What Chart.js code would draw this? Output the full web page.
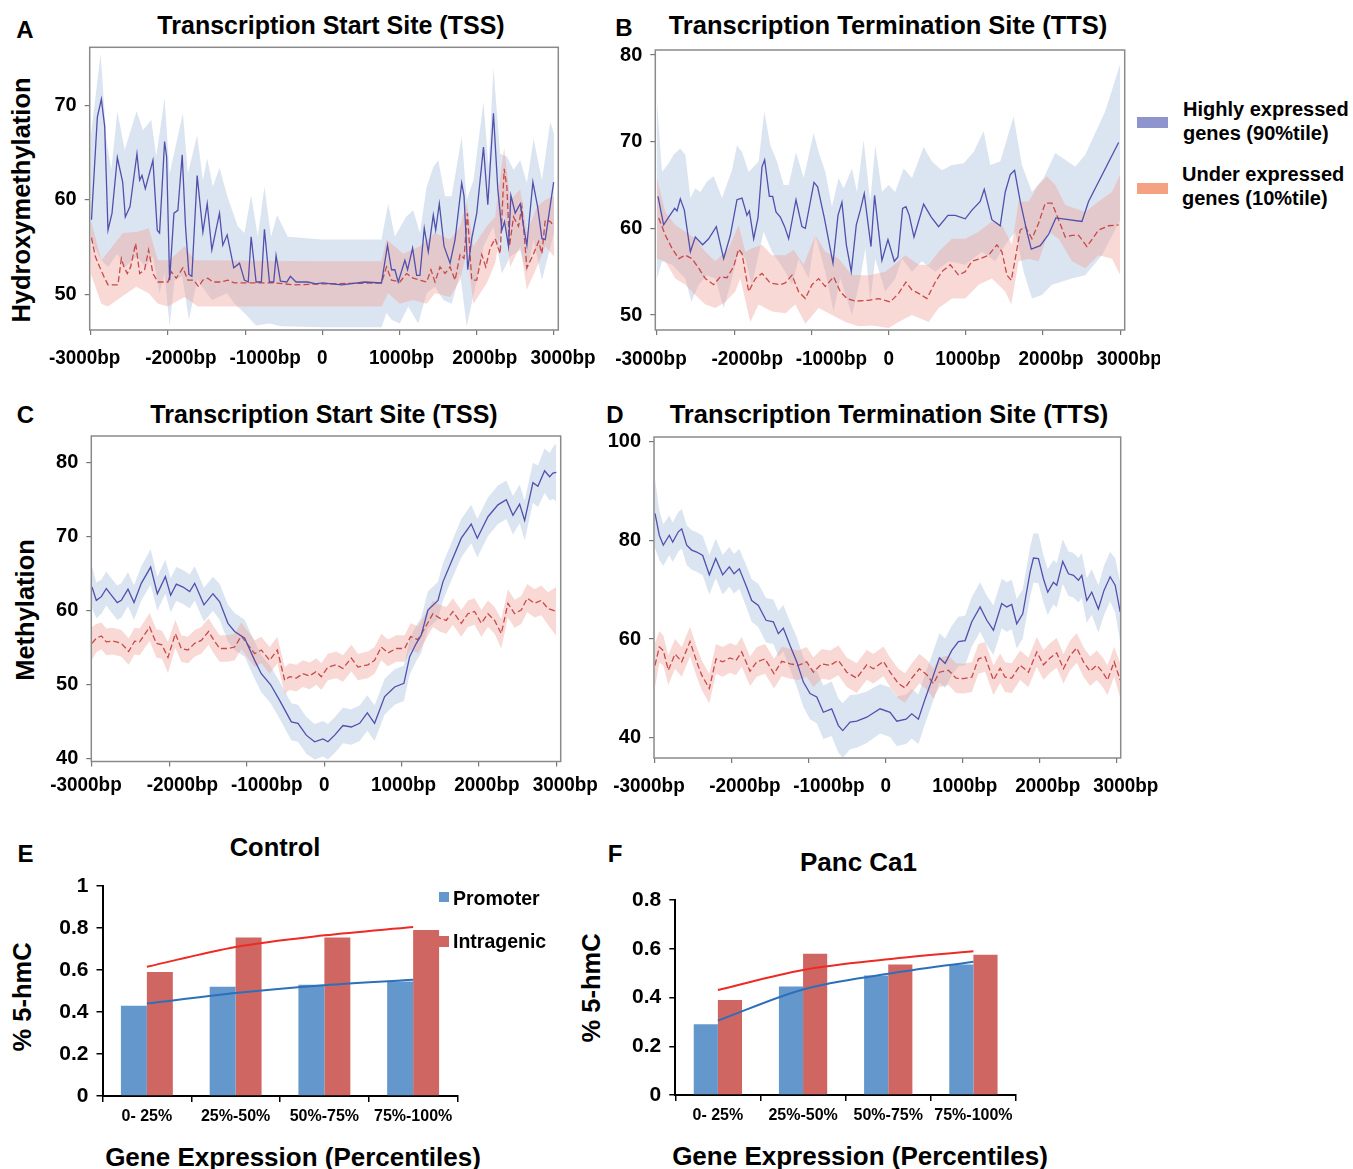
<!DOCTYPE html>
<html>
<head>
<meta charset="utf-8">
<script src="https://cdn.jsdelivr.net/npm/chart.js@4.4.1/dist/chart.umd.min.js"></script>
<style>
  body { margin: 0; background: #fff; width: 1353px; height: 1169px; position: relative; overflow: hidden;
         font-family: "Liberation Sans", Arial, sans-serif; font-weight: bold; color: #000; }
  canvas { position: absolute; }
  .t { position: absolute; transform: translate(-50%, -50%); white-space: nowrap; line-height: 1; }
  .v { position: absolute; transform: translate(-50%, -50%) rotate(-90deg); white-space: nowrap; line-height: 1; }
  .l { position: absolute; transform: translateY(-50%); white-space: nowrap; line-height: 1; }
  .lg { position: absolute; font-size: 20px; line-height: 24px; white-space: nowrap; }
  .sw { position: absolute; }
</style>
</head>
<body>

<div class="t" style="left:25px;top:29.5px;font-size:24px">A</div>
<div class="t" style="left:331px;top:24.5px;font-size:25px">Transcription Start Site (TSS)</div>
<div class="t" style="left:624px;top:27.5px;font-size:24px">B</div>
<div class="t" style="left:888px;top:26px;font-size:25.5px">Transcription Termination Site (TTS)</div>
<div class="t" style="left:25.5px;top:415px;font-size:24px">C</div>
<div class="t" style="left:324px;top:413.5px;font-size:25px">Transcription Start Site (TSS)</div>
<div class="t" style="left:615px;top:415px;font-size:24px">D</div>
<div class="t" style="left:889px;top:415px;font-size:25.5px">Transcription Termination Site (TTS)</div>
<div class="v" style="left:22px;top:200px;font-size:25.5px">Hydroxymethylation</div>
<div class="v" style="left:26px;top:610px;font-size:25.5px">Methylation</div>

<div class="sw" style="left:1137px;top:117px;width:31px;height:10.5px;background:#8E95CD"></div>
<div class="lg" style="left:1183px;top:96.5px">Highly expressed<br>genes (90%tile)</div>
<div class="sw" style="left:1137px;top:183px;width:31px;height:11px;background:#F5A283"></div>
<div class="lg" style="left:1182px;top:161.5px">Under expressed<br>genes (10%tile)</div>

<div class="t" style="left:25.5px;top:853.5px;font-size:24px">E</div>
<div class="t" style="left:275px;top:847.5px;font-size:25.5px">Control</div>
<div class="v" style="left:22.5px;top:997px;font-size:25.5px">% 5-hmC</div>
<div class="t" style="left:293px;top:1157px;font-size:26px">Gene Expression (Percentiles)</div>

<div class="t" style="left:615px;top:853.5px;font-size:24px">F</div>
<div class="t" style="left:858.5px;top:861.5px;font-size:26px">Panc Ca1</div>
<div class="v" style="left:592px;top:988px;font-size:25.5px">% 5-hmC</div>
<div class="t" style="left:860px;top:1156px;font-size:26px">Gene Expression (Percentiles)</div>

<canvas id="chartA" width="600" height="345" style="left:0;top:40px"></canvas>
<canvas id="chartB" width="560" height="345" style="left:600px;top:40px"></canvas>
<canvas id="chartC" width="600" height="380" style="left:0;top:425px"></canvas>
<canvas id="chartD" width="560" height="380" style="left:600px;top:425px"></canvas>
<canvas id="chartE" width="580" height="290" style="left:0;top:870px"></canvas>
<canvas id="chartF" width="480" height="290" style="left:580px;top:870px"></canvas>

<div class="sw" style="left:439px;top:892px;width:10px;height:10px;background:#6497CB"></div>
<div class="l" style="left:453px;top:898.5px;font-size:19.5px">Promoter</div>
<div class="sw" style="left:439px;top:936px;width:10px;height:11px;background:#CF6662"></div>
<div class="l" style="left:453px;top:942px;font-size:19.5px">Intragenic</div>

<script>
// x positions are bp relative to the site
const xTickValues = [-3000, -2000, -1000, 0, 1000, 2000, 3000];
const xTickLabels = ["-3000bp", "-2000bp", "-1000bp", "0", "1000bp", "2000bp", "3000bp"];

// ---- A: hydroxymethylation around TSS  [bp, value]
const aHighMean = [[-2990,57.9],[-2914,68.8],[-2862,70.7],[-2819,67.8],[-2776,56.8],[-2724,58.6],[-2655,64.5],[-2586,61.9],[-2552,58.2],[-2491,59.3],[-2401,64.9],[-2366,62.1],[-2336,62.6],[-2293,61.2],[-2194,64.2],[-2138,56.8],[-2108,56.5],[-2043,66.2],[-2017,64.6],[-1978,51.5],[-1922,58.6],[-1871,58.9],[-1815,64.8],[-1772,57.2],[-1728,52.1],[-1690,51.9],[-1621,62.6],[-1547,56.6],[-1491,59.6],[-1431,54.7],[-1332,58.6],[-1289,55.2],[-1233,56.3],[-1147,52.8],[-1073,53.3],[-1009,51.5],[-960,51.3],[-922,56.1],[-858,51.3],[-790,51.3],[-750,56.9],[-685,51.3],[-630,51.3],[-599,54.1],[-543,51.4],[-460,51.3],[-414,51.9],[-341,51.3],[-190,51.3],[-82,51.1],[0,51.2],[250,51.0],[550,51.3],[766,51.2],[844,55.2],[896,52.6],[939,52.6],[983,51.3],[1069,53.6],[1104,52.6],[1169,54.9],[1221,52.0],[1264,52.0],[1320,57.0],[1372,54.5],[1437,58.4],[1468,56.8],[1515,59.6],[1576,55.1],[1654,53.3],[1719,55.8],[1805,61.8],[1835,60.4],[1883,52.6],[1935,55.9],[2000,58.6],[2087,65.6],[2143,59.5],[2216,69.2],[2273,61.1],[2325,56.8],[2359,57.7],[2411,55.1],[2442,60.5],[2498,58.6],[2563,59.6],[2606,57.2],[2649,55.2],[2727,61.9],[2788,59.3],[2844,55.9],[2887,55.8],[2996,61.9]];
const aHighUpper = [[-3000,66.7],[-2871,75.5],[-2797,66.4],[-2733,63.2],[-2655,69.4],[-2560,65.3],[-2405,69.4],[-2323,67.4],[-2216,68.5],[-2151,64.6],[-2043,70.8],[-1978,62.8],[-1806,69.2],[-1741,62.8],[-1621,66.9],[-1547,62.1],[-1491,64.4],[-1418,61.4],[-1332,63.4],[-1224,60.2],[-1095,57.2],[-1009,56.5],[-922,60.5],[-836,56.1],[-750,61.4],[-664,56.1],[-586,58.4],[-448,56.1],[0,55.8],[766,55.8],[853,59.6],[939,56.1],[1082,58.2],[1177,58.9],[1264,56.5],[1351,61.4],[1437,63.5],[1502,64.2],[1589,60.4],[1675,60.4],[1805,66.7],[1870,60.0],[1957,62.1],[2087,70.4],[2152,63.5],[2216,74.0],[2303,64.9],[2390,64.6],[2476,63.2],[2563,64.2],[2649,61.8],[2736,66.5],[2844,62.1],[2952,68.3],[3000,67.0]];
const aHighLower = [[-3000,55.8],[-2862,53.6],[-2776,52.9],[-2655,54.3],[-2560,52.9],[-2401,54.0],[-2293,52.9],[-2194,54.0],[-2108,50.1],[-2043,52.2],[-1978,46.6],[-1914,51.5],[-1815,51.9],[-1728,47.3],[-1621,51.5],[-1431,49.4],[-1233,50.1],[-1138,49.0],[-1009,48.0],[-858,46.7],[-685,46.9],[-534,46.6],[0,46.5],[766,46.5],[831,48.0],[896,47.3],[1004,46.9],[1113,48.7],[1242,46.9],[1351,50.1],[1459,50.8],[1567,49.4],[1675,49.0],[1784,52.2],[1870,46.6],[2000,51.5],[2087,55.1],[2216,57.2],[2325,52.2],[2433,54.0],[2563,54.7],[2649,52.2],[2736,55.8],[2844,51.5],[3000,56.5]];
const aLowMean = [[-2990,56.0],[-2940,54.0],[-2884,52.9],[-2819,51.7],[-2776,51.0],[-2647,51.0],[-2603,53.8],[-2569,52.9],[-2526,52.2],[-2483,52.9],[-2418,55.4],[-2366,52.2],[-2302,52.6],[-2250,54.7],[-2194,52.2],[-2129,51.3],[-2000,51.3],[-1957,52.4],[-1892,51.7],[-1806,52.8],[-1741,51.5],[-1664,51.5],[-1603,50.8],[-1547,51.5],[-1483,51.7],[-1418,51.3],[-1310,51.3],[-1224,51.5],[-1138,51.2],[-621,51.2],[-362,51.0],[0,51.1],[766,51.2],[831,52.9],[896,51.5],[1004,51.3],[1091,52.2],[1177,51.7],[1264,51.5],[1351,51.3],[1407,52.6],[1459,51.3],[1524,52.9],[1589,52.2],[1654,52.9],[1719,51.5],[1784,54.2],[1835,53.8],[1879,58.6],[1935,51.5],[2000,51.5],[2065,54.2],[2117,52.9],[2173,54.9],[2238,55.9],[2303,54.3],[2355,63.3],[2390,61.4],[2424,55.1],[2476,58.2],[2541,57.2],[2584,59.3],[2649,52.8],[2736,54.3],[2801,55.6],[2844,54.3],[2887,57.9],[2952,57.7],[3000,57.2]];
const aLowUpper = [[-3000,57.9],[-2862,53.6],[-2582,56.5],[-2410,56.6],[-2250,57.0],[-2129,53.6],[-1978,53.6],[-1784,55.1],[-1655,53.6],[0,53.5],[766,53.5],[831,55.8],[1048,54.3],[1264,55.1],[1459,56.5],[1654,55.8],[1784,57.2],[1870,59.8],[1957,55.1],[2130,57.2],[2238,58.2],[2355,65.6],[2433,60.0],[2563,61.1],[2649,56.5],[2779,59.3],[2887,60.0],[3000,60.4]];
const aLowLower = [[-3000,52.2],[-2862,49.0],[-2776,48.7],[-2603,49.7],[-2410,50.8],[-2250,50.1],[-2129,49.0],[-2000,48.7],[-1784,49.7],[-1612,48.7],[-1224,48.7],[0,48.7],[766,48.7],[853,50.1],[1004,49.0],[1177,49.4],[1351,49.0],[1459,50.1],[1654,49.7],[1784,51.5],[1870,54.5],[1957,49.0],[2130,51.2],[2238,53.3],[2355,58.6],[2433,52.9],[2563,55.1],[2649,50.5],[2779,52.9],[2887,55.1],[3000,54.0]];

// ---- B: hydroxymethylation around TTS
const bHighMean = [[-2987,63.7],[-2914,60.4],[-2849,61.3],[-2771,62.3],[-2741,62.0],[-2698,63.4],[-2646,62.1],[-2568,57.3],[-2504,59.0],[-2409,58.1],[-2331,58.8],[-2232,60.2],[-2137,56.5],[-2050,59.2],[-1964,63.3],[-1899,63.5],[-1835,61.5],[-1804,62.0],[-1748,58.8],[-1692,61.2],[-1640,67.1],[-1606,67.9],[-1545,63.7],[-1502,63.7],[-1459,61.9],[-1403,61.3],[-1347,60.2],[-1295,58.8],[-1200,63.3],[-1123,60.2],[-1079,60.0],[-967,65.3],[-920,64.8],[-833,61.2],[-721,56.0],[-656,61.5],[-605,63.0],[-548,58.1],[-484,55.0],[-419,60.4],[-367,62.1],[-316,64.0],[-229,57.9],[-182,63.8],[-87,56.3],[-9,58.7],[73,56.2],[120,56.7],[181,62.3],[224,62.5],[267,61.5],[328,59.0],[453,62.8],[552,61.3],[647,60.2],[768,61.5],[863,61.5],[992,61.1],[1079,62.1],[1186,63.1],[1238,64.5],[1337,61.0],[1445,60.3],[1510,64.2],[1575,66.2],[1631,66.7],[1704,63.1],[1791,59.6],[1847,57.6],[1963,58.0],[2071,59.3],[2166,61.2],[2503,60.8],[2589,63.1],[2978,69.9]];
const bHighUpper = [[-3000,74.6],[-2935,66.5],[-2849,67.5],[-2784,68.5],[-2698,69.2],[-2633,68.5],[-2568,63.5],[-2504,64.6],[-2439,64.2],[-2353,65.4],[-2266,66.0],[-2158,63.5],[-2029,66.7],[-1964,69.6],[-1899,68.8],[-1813,66.5],[-1684,67.7],[-1610,73.5],[-1533,69.6],[-1446,67.7],[-1360,65.0],[-1295,65.0],[-1200,68.8],[-1101,65.8],[-971,71.0],[-907,68.8],[-820,66.5],[-734,62.5],[-648,65.8],[-583,64.6],[-475,66.9],[-410,64.2],[-324,70.2],[-238,63.1],[-173,69.6],[-87,64.2],[0,65.0],[86,64.2],[194,66.9],[302,65.8],[453,69.4],[561,67.7],[690,66.7],[820,67.3],[971,67.5],[1100,68.8],[1230,71.2],[1316,67.3],[1445,67.7],[1618,72.9],[1726,67.3],[1856,64.2],[2007,65.8],[2158,68.7],[2417,67.1],[2546,68.5],[2805,73.5],[3000,79.0]];
const bHighLower = [[-3000,54.2],[-2935,56.2],[-2806,55.8],[-2633,54.2],[-2555,51.5],[-2460,53.5],[-2353,54.6],[-2245,54.2],[-2137,50.8],[-2050,53.5],[-1943,57.3],[-1856,56.5],[-1770,53.5],[-1619,59.6],[-1511,57.3],[-1338,55.0],[-1252,53.5],[-1166,56.5],[-1036,54.2],[-950,59.2],[-820,55.0],[-713,50.4],[-626,54.2],[-475,50.0],[-367,54.2],[-302,57.7],[-238,51.5],[-173,56.5],[-44,52.7],[86,54.2],[172,56.5],[302,55.0],[431,56.2],[604,55.0],[777,56.2],[992,55.8],[1208,57.3],[1381,56.2],[1510,58.1],[1640,59.6],[1748,55.0],[1856,51.9],[1985,52.3],[2115,53.5],[2374,54.2],[2546,54.6],[2762,56.9],[3000,61.0]];
const bLowMean = [[-2978,61.2],[-2892,59.2],[-2806,57.7],[-2719,56.5],[-2633,56.9],[-2547,56.5],[-2460,55.4],[-2374,54.2],[-2266,53.5],[-2180,54.4],[-2094,54.3],[-2007,55.6],[-1943,57.6],[-1899,57.1],[-1813,52.7],[-1727,54.2],[-1640,54.8],[-1533,53.7],[-1403,53.5],[-1338,53.7],[-1252,54.6],[-1166,52.7],[-1079,51.9],[-993,53.5],[-907,54.2],[-820,53.3],[-713,54.4],[-626,52.7],[-540,51.9],[-432,51.6],[-259,51.7],[-130,51.9],[21,51.5],[129,52.5],[224,53.8],[302,52.9],[388,52.5],[496,51.9],[604,53.8],[690,55.0],[798,55.8],[906,54.6],[992,55.0],[1079,56.2],[1186,56.5],[1294,56.9],[1402,58.1],[1467,57.3],[1532,54.6],[1588,54.0],[1640,56.5],[1704,59.8],[1769,60.2],[1856,58.8],[1942,60.6],[2028,62.9],[2115,62.9],[2179,61.5],[2287,59.0],[2374,59.2],[2460,59.2],[2568,57.9],[2719,59.8],[2848,60.3],[2978,60.4]];
const bLowUpper = [[-3000,65.8],[-2892,61.9],[-2763,60.4],[-2633,59.6],[-2504,58.8],[-2374,57.3],[-2245,56.2],[-2072,57.7],[-1943,60.4],[-1856,57.3],[-1770,57.7],[-1640,58.1],[-1511,56.9],[-1338,56.9],[-1230,57.5],[-1101,55.8],[-950,59.2],[-820,57.3],[-648,56.5],[-475,54.6],[-259,54.6],[-44,55.0],[129,56.2],[215,56.9],[388,55.8],[518,55.8],[647,57.3],[820,58.8],[992,58.8],[1165,59.6],[1338,60.8],[1467,60.4],[1597,58.1],[1683,63.1],[1812,63.1],[1942,65.0],[2050,66.0],[2158,65.0],[2287,62.7],[2417,62.3],[2546,61.9],[2719,63.1],[2892,64.2],[3000,66.2]];
const bLowLower = [[-3000,56.5],[-2892,56.2],[-2763,54.2],[-2633,53.5],[-2504,52.3],[-2374,51.2],[-2245,50.8],[-2115,51.5],[-1986,52.7],[-1921,54.2],[-1792,49.2],[-1684,51.2],[-1511,50.4],[-1338,50.2],[-1209,51.2],[-1079,49.0],[-907,50.8],[-734,50.0],[-561,49.2],[-389,48.7],[-216,48.8],[0,48.5],[129,49.2],[302,50.0],[518,49.2],[647,50.8],[820,51.9],[992,51.9],[1165,53.5],[1338,54.2],[1510,52.7],[1588,51.2],[1683,56.2],[1812,56.5],[1942,56.2],[2071,59.6],[2201,58.8],[2374,56.2],[2546,55.4],[2719,56.9],[2892,56.5],[3000,54.6]];

// ---- C: methylation around TSS  [bp, mean, band half-width]
const cHigh = [[-3000,63.2,2.8],[-2944,61.4,2.4],[-2879,61.9,2.3],[-2815,63.0,2.3],[-2750,62.1,2.3],[-2673,61.1,2.3],[-2621,61.4,2.3],[-2535,62.9,2.3],[-2457,61.1,2.3],[-2363,63.7,2.3],[-2242,65.9,2.4],[-2156,62.3,2.3],[-2052,64.6,2.3],[-1984,62.1,2.3],[-1910,63.6,2.3],[-1824,63.2,2.3],[-1738,62.6,2.3],[-1673,63.7,2.3],[-1553,60.8,2.3],[-1437,62.3,2.3],[-1350,61.2,2.4],[-1243,58.3,2.5],[-1157,57.2,2.5],[-1027,56.3,2.5],[-898,53.3,2.5],[-812,51.5,2.5],[-691,50.0,2.5],[-575,47.9,2.5],[-424,45.0,2.5],[-338,44.8,2.5],[-231,43.2,2.5],[-123,42.3,2.4],[-15,42.7,2.4],[49,42.3,2.4],[136,43.2,2.4],[243,44.5,2.4],[351,44.3,2.4],[459,44.8,2.4],[558,46.2,2.4],[652,44.8,2.4],[782,48.4,2.4],[911,49.7,2.4],[1031,50.2,2.4],[1105,53.8,2.4],[1191,55.6,2.4],[1255,56.7,2.4],[1341,60.1,2.5],[1471,61.4,2.5],[1535,63.9,2.5],[1643,66.6,2.5],[1772,69.8,2.6],[1901,71.7,2.6],[1979,69.8,2.6],[2117,72.7,2.6],[2246,74.3,2.6],[2354,75.0,2.6],[2440,72.9,2.6],[2526,74.4,2.6],[2591,72.2,2.7],[2698,77.3,2.7],[2763,76.8,2.8],[2849,78.9,3.0],[2914,78.1,3.2],[2957,78.6,3.5],[3000,78.7,3.9]];
const cLow = [[-3000,55.6,2.2],[-2944,56.3,1.9],[-2879,56.6,1.8],[-2815,55.8,1.8],[-2729,55.9,1.8],[-2621,55.6,1.8],[-2526,54.5,1.8],[-2449,55.9,1.8],[-2384,55.8,1.8],[-2255,57.8,1.9],[-2169,55.6,1.9],[-2096,55.4,1.9],[-2018,53.7,2.1],[-1923,56.9,1.9],[-1846,54.9,1.8],[-1760,54.7,1.8],[-1673,55.6,1.8],[-1587,56.0,1.8],[-1493,57.2,1.8],[-1424,56.0,1.8],[-1350,54.9,1.8],[-1243,54.9,1.8],[-1157,55.1,1.8],[-1070,56.6,1.8],[-984,55.4,1.8],[-898,54.2,1.8],[-812,54.7,1.8],[-704,53.3,1.8],[-605,54.7,1.8],[-510,50.6,1.8],[-446,51.1,1.8],[-360,50.9,1.8],[-274,51.5,1.8],[-187,51.2,1.8],[-101,51.8,1.8],[-37,51.1,1.8],[49,52.4,1.8],[157,52.7,1.8],[243,52.2,1.8],[351,53.6,1.8],[437,52.4,1.8],[566,52.7,1.8],[652,53.3,1.8],[738,55.1,1.8],[825,54.3,1.8],[932,54.9,1.8],[1040,54.9,1.8],[1117,56.5,1.8],[1212,56.1,1.8],[1298,57.6,1.8],[1406,59.6,1.8],[1492,59.0,1.8],[1578,58.7,1.8],[1664,59.9,1.8],[1772,58.3,1.8],[1858,59.6,1.8],[1944,59.9,1.8],[2031,58.3,1.8],[2117,59.6,1.8],[2203,58.7,1.8],[2289,56.9,2.0],[2375,61.0,1.9],[2461,59.6,1.9],[2547,60.1,1.9],[2625,61.7,1.9],[2720,61.0,1.9],[2806,61.4,2.0],[2892,60.3,2.2],[3000,59.9,3.3]];

// ---- D: methylation around TTS  [bp, mean, band half-width]
const dHigh = [[-3000,85.4,7.0],[-2944,81.0,5.0],[-2892,79.0,4.2],[-2814,81.0,4.0],[-2770,79.6,4.0],[-2697,81.7,4.0],[-2653,82.3,4.0],[-2588,79.0,4.0],[-2523,78.0,4.0],[-2458,77.6,4.0],[-2380,76.9,4.0],[-2294,73.0,4.0],[-2211,76.3,4.0],[-2120,73.0,4.0],[-2034,74.6,4.0],[-1973,73.2,4.0],[-1904,74.2,4.0],[-1808,70.5,4.2],[-1743,67.8,4.3],[-1657,66.8,4.4],[-1557,63.8,4.5],[-1462,63.5,4.5],[-1397,61.1,4.6],[-1332,62.2,4.7],[-1245,58.7,4.8],[-1158,55.4,5.0],[-1072,51.3,5.0],[-985,49.0,5.2],[-898,48.3,5.3],[-812,45.2,5.4],[-704,45.9,5.5],[-617,42.5,5.5],[-560,41.5,5.5],[-465,43.2,5.5],[-379,43.4,5.4],[-248,44.2,5.2],[-75,45.9,5.0],[55,45.2,5.0],[142,43.4,5.0],[263,43.8,5.0],[337,44.9,5.0],[423,43.8,5.0],[510,47.9,5.0],[597,51.7,5.0],[696,56.2,5.0],[770,55.1,5.0],[857,57.7,5.0],[943,59.5,5.0],[1030,59.7,5.0],[1117,63.5,5.0],[1225,66.5,5.0],[1312,63.8,5.0],[1398,61.8,5.0],[1506,67.2,5.0],[1571,66.5,5.0],[1636,67.0,5.0],[1701,63.1,5.0],[1779,65.1,5.0],[1875,73.6,5.0],[1918,76.4,5.0],[1983,76.3,5.0],[2048,72.2,4.8],[2104,69.5,4.6],[2178,71.5,4.5],[2221,70.9,4.5],[2299,75.7,4.5],[2373,73.2,4.5],[2438,72.9,4.5],[2503,71.9,4.5],[2546,72.9,4.5],[2611,67.8,4.5],[2676,69.5,4.6],[2762,66.1,4.8],[2836,69.9,5.0],[2915,72.6,5.0],[2980,70.9,5.5],[3045,65.5,6.0]];
const dLow = [[-3000,54.7,4.5],[-2944,58.4,3.2],[-2892,57.7,3.0],[-2827,53.7,3.0],[-2740,57.0,3.0],[-2653,55.4,3.0],[-2545,59.5,3.0],[-2458,55.4,3.0],[-2393,52.7,3.0],[-2294,50.0,3.0],[-2207,56.0,3.0],[-2120,55.4,3.0],[-2025,56.2,3.0],[-1947,55.7,3.0],[-1873,57.4,3.0],[-1765,53.5,3.0],[-1678,55.4,3.0],[-1570,56.0,3.0],[-1453,53.0,3.0],[-1353,55.5,3.0],[-1245,55.0,3.0],[-1137,54.7,3.0],[-1028,55.4,3.0],[-942,53.3,3.0],[-833,55.0,3.0],[-725,54.7,3.0],[-617,55.7,3.0],[-508,53.3,3.0],[-379,52.1,3.0],[-248,54.8,3.0],[-162,54.0,3.0],[-32,55.5,3.0],[55,53.3,3.0],[163,51.0,3.0],[250,50.1,3.0],[337,52.1,3.0],[436,54.0,3.0],[531,52.8,3.0],[618,51.0,3.0],[696,53.3,3.0],[813,53.7,3.0],[913,52.1,3.0],[1008,52.0,3.0],[1117,52.3,3.0],[1203,56.0,3.0],[1290,56.4,3.0],[1398,51.7,3.0],[1485,54.1,3.0],[1550,52.3,3.0],[1636,52.1,3.0],[1745,54.7,3.0],[1853,53.3,3.0],[1962,57.4,3.0],[2048,54.8,3.0],[2135,56.2,3.0],[2221,57.2,3.0],[2308,54.0,3.0],[2395,56.7,3.0],[2481,58.2,3.0],[2568,55.4,3.0],[2655,53.5,3.0],[2741,54.7,3.0],[2819,53.3,3.0],[2880,51.7,3.0],[2967,55.4,3.0],[3045,51.7,3.5]];

// ---- E / F: % 5-hmC by expression percentile
const expressionBins = ["0- 25%", "25%-50%", "50%-75%", "75%-100%"];
const controlPromoter = [0.43, 0.52, 0.53, 0.545];
const controlIntragenic = [0.59, 0.755, 0.755, 0.79];
const controlPromoterTrend = [0.44, 0.49, 0.527, 0.553];
const controlIntragenicTrend = [0.615, 0.71, 0.765, 0.805];
const pancPromoter = [0.29, 0.445, 0.49, 0.535];
const pancIntragenic = [0.39, 0.58, 0.535, 0.575];
const pancPromoterTrend = [0.305, 0.433, 0.497, 0.547];
const pancIntragenicTrend = [0.431, 0.513, 0.557, 0.59];
const yTicksE = [0, 0.2, 0.4, 0.6, 0.8, 1];
const yLabelsE = ["0", "0.2", "0.4", "0.6", "0.8", "1"];
const yTicksF = [0, 0.2, 0.4, 0.6, 0.8];
const yLabelsF = ["0", "0.2", "0.4", "0.6", "0.8"];

Chart.defaults.font.family = '"Liberation Sans", Arial, sans-serif';
Chart.defaults.font.weight = "bold";
Chart.defaults.font.size = 20;
Chart.defaults.color = "#000";
Chart.defaults.elements.point.radius = 0;

const BLUE_LINE = "#5050AD";
const RED_LINE = "#C9494A";
const BLUE_BAND = "rgba(175, 195, 225, 0.45)";
const RED_BAND = "rgba(240, 155, 145, 0.38)";

// the original axis labels sit a little off their ticks (px)
const xLabelNudge = [-6, 13, 20, 0, 2, 8, 9];

const toXY = arr => arr.map(p => ({ x: p[0], y: p[1] }));
const bandUp = arr => arr.map(p => [p[0], p[1] + p[2]]);
const bandLo = arr => arr.map(p => [p[0], p[1] - p[2]]);

// fixed axis width, and no extra room reserved above/below for the end labels
const fixWidth = w => sc => { sc.width = w; sc.paddingTop = 0; sc.paddingBottom = 0; };

// box around the plot area
const framePlugin = {
    id: "frame",
    afterDatasetsDraw(chart, args, opts) {
        const { ctx, chartArea: a } = chart;
        ctx.save();
        ctx.strokeStyle = opts.color || "#888";
        ctx.lineWidth = opts.width || 1.5;
        ctx.strokeRect(a.left, a.top, a.right - a.left, a.bottom - a.top);
        ctx.restore();
    }
};

// bp labels, a bit condensed like the original font
const xLabelPlugin = {
    id: "xLabels",
    afterDraw(chart, args, opts) {
        const sc = chart.scales.x;
        const ctx = chart.ctx;
        const y = chart.chartArea.bottom + opts.dy;
        xTickValues.forEach((v, i) => {
            ctx.save();
            ctx.translate(sc.getPixelForValue(v) + xLabelNudge[i], y);
            ctx.scale(0.9, 1);
            ctx.font = 'bold 21px "Liberation Sans", Arial, sans-serif';
            ctx.fillStyle = "#000";
            ctx.textAlign = "center";
            ctx.textBaseline = "middle";
            ctx.fillText(xTickLabels[i], 0, 0);
            ctx.restore();
        });
    }
};

function profileChart(id, s, cfg) {
    const edge = { borderWidth: 0, borderColor: "transparent" };
    new Chart(document.getElementById(id), {
        type: "line",
        data: {
            datasets: [
                { data: toXY(s.highMean), borderColor: BLUE_LINE, borderWidth: 1.3, order: 0 },
                { data: toXY(s.lowMean), borderColor: RED_LINE, borderWidth: 1.3, borderDash: [6, 3], order: 1 },
                { data: toXY(s.lowUp), ...edge, order: 2 },
                { data: toXY(s.lowLo), ...edge, fill: 2, backgroundColor: RED_BAND, order: 3 },
                { data: toXY(s.highUp), ...edge, order: 4 },
                { data: toXY(s.highLo), ...edge, fill: 4, backgroundColor: BLUE_BAND, order: 5 }
            ]
        },
        options: {
            responsive: false,
            animation: false,
            events: [],
            layout: { padding: { left: 0, top: cfg.top, right: cfg.right, bottom: 0 } },
            plugins: {
                legend: { display: false }, tooltip: { enabled: false },
                frame: { color: "#8a8a8a", width: 1.5 },
                xLabels: { dy: cfg.labelDy }
            },
            scales: {
                x: {
                    type: "linear", min: cfg.xMin, max: cfg.xMax,
                    afterBuildTicks: sc => { sc.ticks = xTickValues.map(v => ({ value: v })); },
                    afterFit: sc => { sc.height = cfg.xh; },
                    ticks: { display: false },
                    grid: { drawOnChartArea: false, tickLength: 5, color: "#777", lineWidth: 1.2 },
                    border: { display: false }
                },
                y: {
                    min: cfg.yMin, max: cfg.yMax,
                    afterBuildTicks: sc => { sc.ticks = cfg.yTicks.map(v => ({ value: v })); },
                    afterFit: fixWidth(cfg.yw),
                    ticks: { callback: v => String(v), padding: 8 },
                    grid: { drawOnChartArea: false, tickLength: 5, color: "#777", lineWidth: 1.2 },
                    border: { display: false }
                }
            }
        },
        plugins: [framePlugin, xLabelPlugin]
    });
}

profileChart("chartA",
    { highMean: aHighMean, highUp: aHighUpper, highLo: aHighLower, lowMean: aLowMean, lowUp: aLowUpper, lowLo: aLowLower },
    { xMin: -3013, xMax: 3056, yMin: 46.21, yMax: 76.19, yTicks: [50, 60, 70], yw: 89.7, top: 7.3, right: 41.7, xh: 55, labelDy: 28 });

profileChart("chartB",
    { highMean: bHighMean, highUp: bHighUpper, highLo: bHighLower, lowMean: bLowMean, lowUp: bLowUpper, lowLo: bLowLower },
    { xMin: -3022, xMax: 3057, yMin: 48.27, yMax: 80.58, yTicks: [50, 60, 70, 80], yw: 55.3, top: 10, right: 35.3, xh: 55, labelDy: 29.5 });

profileChart("chartC",
    { highMean: cHigh, highUp: bandUp(cHigh), highLo: bandLo(cHigh), lowMean: cLow, lowUp: bandUp(cLow), lowLo: bandLo(cLow) },
    { xMin: -3009, xMax: 3057, yMin: 39.64, yMax: 83.6, yTicks: [40, 50, 60, 70, 80], yw: 91.3, top: 11, right: 39.3, xh: 43.5, labelDy: 23.5 });

profileChart("chartD",
    { highMean: dHigh, highUp: bandUp(dHigh), highLo: bandLo(dHigh), lowMean: dLow, lowUp: bandUp(dLow), lowLo: bandLo(dLow) },
    { xMin: -3013, xMax: 3052, yMin: 35.95, yMax: 100.87, yTicks: [40, 60, 80, 100], yw: 54, top: 12, right: 39.3, xh: 47, labelDy: 28.5 });

function barChart(id, promoter, intragenic, promoterTrend, intragenicTrend, cfg) {
    const trend = { type: "line", borderWidth: 2, cubicInterpolationMode: "monotone", order: 0 };
    new Chart(document.getElementById(id), {
        type: "bar",
        data: {
            labels: expressionBins,
            datasets: [
                { ...trend, data: intragenicTrend, borderColor: "#EE2A24" },
                { ...trend, data: promoterTrend, borderColor: "#2B70B8" },
                { data: promoter, backgroundColor: "#6497CB", order: 1 },
                { data: intragenic, backgroundColor: "#CF6662", order: 1 }
            ]
        },
        options: {
            responsive: false,
            animation: false,
            events: [],
            datasets: { bar: { categoryPercentage: cfg.cat, barPercentage: 1 } },
            layout: { padding: { left: 0, top: cfg.top, right: cfg.right, bottom: 0 } },
            plugins: { legend: { display: false }, tooltip: { enabled: false } },
            scales: {
                x: {
                    afterFit: sc => { sc.height = cfg.xh; },
                    ticks: { font: { size: 16 }, padding: 5, autoSkip: false, maxRotation: 0 },
                    grid: { offset: true, drawOnChartArea: false, tickLength: 6, color: "#000", lineWidth: 1.5 },
                    border: { color: "#000", width: 2 }
                },
                y: {
                    min: 0, max: cfg.yMax,
                    afterBuildTicks: sc => { sc.ticks = cfg.yTicks.map(v => ({ value: v })); },
                    afterFit: fixWidth(cfg.yw),
                    ticks: { callback: (v, i) => cfg.yLabels[i], font: { size: 21 }, padding: 8 },
                    grid: { drawOnChartArea: false, tickLength: 6, color: "#000", lineWidth: 1.5 },
                    border: { color: "#000", width: 2 }
                }
            }
        }
    });
}

barChart("chartE", controlPromoter, controlIntragenic, controlPromoterTrend, controlIntragenicTrend,
    { cat: 0.585, yMax: 1, yTicks: yTicksE, yLabels: yLabelsE, yw: 102.5, top: 16, right: 122.5, xh: 64 });

barChart("chartF", pancPromoter, pancIntragenic, pancPromoterTrend, pancIntragenicTrend,
    { cat: 0.567, yMax: 0.8, yTicks: yTicksF, yLabels: yLabelsF, yw: 95.3, top: 30, right: 44, xh: 65 });
</script>
</body>
</html>
